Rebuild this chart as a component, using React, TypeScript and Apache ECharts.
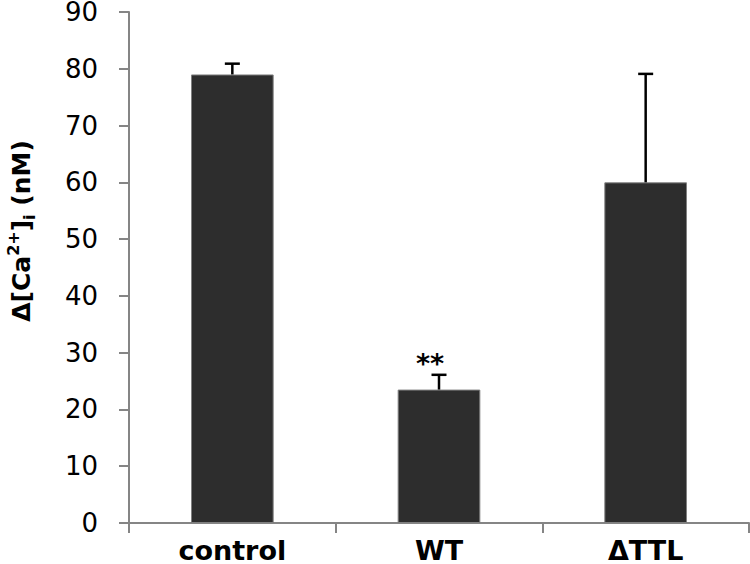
import React, { useEffect, useRef } from "react";
import * as echarts from "echarts";

const categories = ["control", "WT", "ΔTTL"];
const means = [79.0, 23.5, 60.0];
const errors = [1.9, 2.6, 19.1];
const significance = ["", "**", ""];
const yTicks = { min: 0, max: 90, interval: 10 };
const yTitleMain = ["Δ[Ca", "]", " (nM)"];
const yTitleSup = "2+";
const yTitleSub = "i";

const FONT = "'DejaVu Sans', Arial, sans-serif";

export default function App() {
  const ref = useRef<HTMLDivElement>(null);
  useEffect(() => {
    const chart = echarts.init(ref.current!, null, { renderer: "svg" });
    const errData = categories.map((c, i) => [i, means[i], errors[i]]);
    chart.setOption({
      animation: false,
      grid: { left: 129, right: 1, top: 12, bottom: 41, containLabel: false, outerBoundsMode: "none" },
      graphic: [
        {
          type: "text",
          x: 21,
          y: 231,
          rotation: Math.PI / 2,
          style: {
            text: `{m|${yTitleMain[0]}}{sup|${yTitleSup}}{m|${yTitleMain[1]}}{sub|${yTitleSub}}{m|${yTitleMain[2]}}`,
            align: "center",
            verticalAlign: "middle",
            fill: "#000",
            rich: {
              m: { fontFamily: FONT, fontWeight: "bold", fontSize: 25, lineHeight: 32, fill: "#000" },
              sup: {
                fontFamily: FONT,
                fontWeight: "bold",
                fontSize: 16,
                lineHeight: 32,
                verticalAlign: "top",
                fill: "#000",
              },
              sub: {
                fontFamily: FONT,
                fontWeight: "bold",
                fontSize: 16,
                lineHeight: 32,
                verticalAlign: "bottom",
                fill: "#000",
              },
            },
          },
        },
      ],
      xAxis: {
        type: "category",
        data: categories,
        boundaryGap: true,
        axisLine: { lineStyle: { color: "#858585", width: 2 } },
        axisTick: { show: true, length: 10, lineStyle: { color: "#858585", width: 2 } },
        axisLabel: {
          color: "#000",
          fontFamily: FONT,
          fontWeight: "bold",
          fontSize: 27,
          lineHeight: 27,
          margin: 14,
        },
      },
      yAxis: {
        type: "value",
        min: yTicks.min,
        max: yTicks.max,
        interval: yTicks.interval,
        splitLine: { show: false },
        axisLine: { show: true, lineStyle: { color: "#858585", width: 2 } },
        axisTick: { show: true, length: 10, lineStyle: { color: "#858585", width: 2 } },
        axisLabel: {
          color: "#000",
          fontFamily: FONT,
          fontSize: 26,
          margin: 31,
        },
      },
      series: [
        {
          type: "bar",
          data: means,
          barWidth: "40%",
          itemStyle: { color: "#2d2d2d", borderColor: "#808080", borderWidth: 1 },
        },
        {
          type: "custom",
          data: errData,
          clip: false,
          z: 10,
          encode: { x: 0, y: 1 },
          renderItem: (params: any, api: any) => {
            const idx = api.value(0);
            const m = api.value(1);
            const e = api.value(2);
            const base = api.coord([idx, m]);
            const top = api.coord([idx, m + e]);
            const half = 7.5;
            const children: any[] = [
              {
                type: "line",
                shape: { x1: base[0], y1: base[1], x2: top[0], y2: top[1] },
                style: { stroke: "#000", lineWidth: 2.5 },
              },
              {
                type: "line",
                shape: { x1: top[0] - half, y1: top[1], x2: top[0] + half, y2: top[1] },
                style: { stroke: "#000", lineWidth: 2.5 },
              },
            ];
            const sig = significance[params.dataIndex];
            if (sig) {
              children.push({
                type: "text",
                x: top[0] - 9,
                y: top[1] + 2,
                style: {
                  text: sig,
                  fill: "#000",
                  font: `bold 27px ${FONT}`,
                  align: "center",
                  verticalAlign: "bottom",
                },
              });
            }
            return { type: "group", children };
          },
        },
      ],
    });
    return () => chart.dispose();
  }, []);
  return (
    <div
      ref={ref}
      style={{ position: "fixed", left: 0, top: 0, width: 750, height: 564, background: "#fff" }}
    />
  );
}
